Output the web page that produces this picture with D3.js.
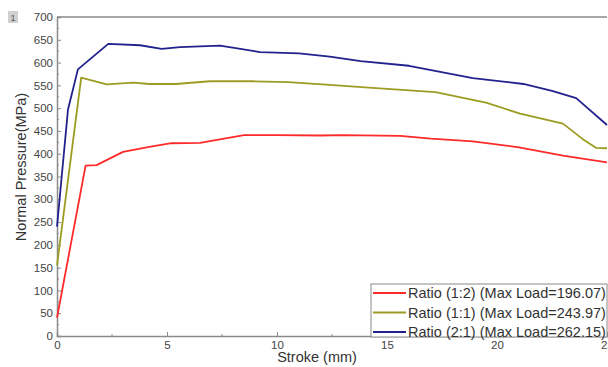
<!DOCTYPE html>
<html><head><meta charset="utf-8">
<script src="https://cdn.jsdelivr.net/npm/d3@7"></script>
<style>body{margin:0;background:#fff}svg{display:block}text{font-family:"Liberation Sans",Arial,sans-serif}</style>
</head><body><svg id="c" width="608" height="367"></svg>
<script>
const seriesNames = ["Ratio (1:2) (Max Load=196.07)","Ratio (1:1) (Max Load=243.97)","Ratio (2:1) (Max Load=262.15)"];
const seriesColors = ["#ff2a2a","#9c9c22","#22228e"];
const red = [[0,40],[1.3,374],[1.8,375],[3.0,404],[4.2,415],[5.2,423],[6.5,424],[8.5,441],[10,441],[12,440],[13,441],[15.6,439],[17,433],[18.9,427],[21,414],[23,396],[25,381]];
const green = [[0,155],[1.1,567],[2.26,552],[3.47,556],[4.2,553],[5.4,553],[6.95,559],[8.9,559],[10.5,557],[12.4,551],[14.5,544],[17.2,535],[19.5,512],[21.05,488],[23.0,466],[23.9,432],[24.5,413],[25,412]];
const blue = [[0,240],[0.5,497],[0.95,585],[2.33,641],[3.77,638],[4.76,630],[5.59,634],[7.41,637],[9.23,623],[11,620],[12.4,613],[13.8,603],[16,593],[18.9,566],[21.2,553],[22.5,538],[23.6,522],[25,463]];
const xTicks = [0,5,10,15,20,25];
const yTicks = [0,50,100,150,200,250,300,350,400,450,500,550,600,650,700];
const data = [red, green, blue];

const svg = d3.select("#c");
const x = d3.scaleLinear().domain([0,25]).range([57,607]);
const y = d3.scaleLinear().domain([0,700]).range([336,17]);
const axisCol = "#8a8a8a";

svg.append("line").attr("x1",57).attr("x2",607).attr("y1",17).attr("y2",17).attr("stroke",axisCol).attr("stroke-width",1.5);

const yAxis = d3.axisLeft(y).tickValues(yTicks).tickSize(-4).tickPadding(4);
const gy = svg.append("g").attr("transform","translate(57,0)").call(yAxis);
gy.select(".domain").attr("stroke",axisCol).attr("stroke-width",1.5);
gy.selectAll(".tick line").attr("stroke",axisCol);
gy.selectAll("text").attr("font-size",11.5).attr("fill","#444");
svg.append("g").selectAll("line").data(d3.range(25,700,50)).join("line")
  .attr("x1",57).attr("x2",59).attr("y1",d=>y(d)).attr("y2",d=>y(d)).attr("stroke",axisCol);

const xAxis = d3.axisBottom(x).tickValues(xTicks).tickSize(-4).tickPadding(5);
const gx = svg.append("g").attr("transform","translate(0,336)").call(xAxis);
gx.select(".domain").attr("stroke",axisCol).attr("stroke-width",1.5);
gx.selectAll(".tick line").attr("stroke",axisCol);
gx.selectAll("text").attr("font-size",11.5).attr("fill","#444");
svg.append("g").selectAll("line").data(d3.range(2.5,25,5)).join("line")
  .attr("x1",d=>x(d)).attr("x2",d=>x(d)).attr("y1",336).attr("y2",334).attr("stroke",axisCol);

const line = d3.line().x(d=>x(d[0])).y(d=>y(d[1]));
data.forEach((s,i)=>{
  svg.append("path").datum(s).attr("d",line).attr("fill","none")
    .attr("stroke",seriesColors[i]).attr("stroke-width",1.8).attr("stroke-linejoin","round");
});

svg.append("text").attr("transform","translate(26,167) rotate(-90)").attr("text-anchor","middle")
  .attr("font-size",14.5).attr("fill","#333").text("Normal Pressure(MPa)");
svg.append("text").attr("x",317).attr("y",362).attr("text-anchor","middle")
  .attr("font-size",14.5).attr("fill","#333").text("Stroke (mm)");

svg.append("rect").attr("x",8).attr("y",11).attr("width",10).attr("height",12).attr("fill","#d0d0d0");
svg.append("text").attr("x",13).attr("y",21).attr("text-anchor","middle").attr("font-size",9).attr("fill","#555").text("1");

const lg = svg.append("g");
lg.append("rect").attr("x",371).attr("y",284).attr("width",236).attr("height",53).attr("fill","#fff").attr("stroke",axisCol);
seriesNames.forEach((n,i)=>{
  const yy = 293 + i*19.5;
  lg.append("line").attr("x1",373).attr("x2",406).attr("y1",yy).attr("y2",yy).attr("stroke",seriesColors[i]).attr("stroke-width",1.8);
  lg.append("text").attr("x",408).attr("y",yy+5).attr("font-size",14.5).attr("fill","#333").text(n);
});
</script></body></html>
